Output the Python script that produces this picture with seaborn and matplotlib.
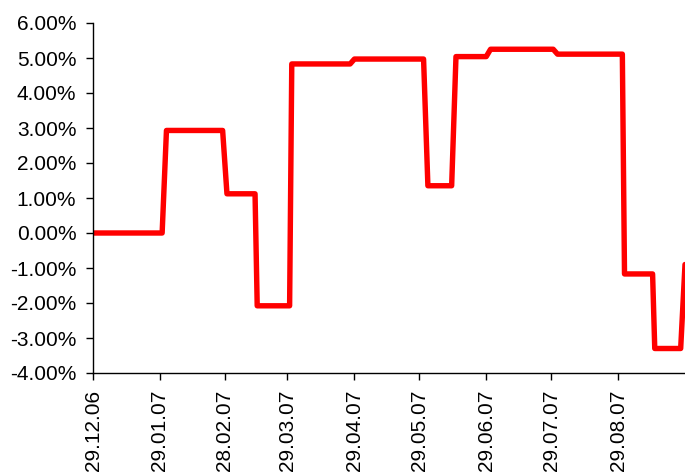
import matplotlib
matplotlib.use("Agg")
import matplotlib.pyplot as plt
import matplotlib.dates as mdates
from matplotlib.ticker import FixedLocator, FuncFormatter
import seaborn as sns
import pandas as pd

# ---- data (corner points of the step-like series, value in %) ----
dates = ["2006-12-29", "2007-01-30", "2007-02-01", "2007-02-27", "2007-03-01",
         "2007-03-14", "2007-03-15", "2007-03-30", "2007-03-31", "2007-04-27",
         "2007-04-29", "2007-05-31", "2007-06-02", "2007-06-13", "2007-06-15",
         "2007-06-29", "2007-07-01", "2007-07-30", "2007-08-01", "2007-08-31",
         "2007-09-01", "2007-09-14", "2007-09-15", "2007-09-27", "2007-09-29"]
values = [0.00, 0.00, 2.93, 2.93, 1.12,
          1.12, -2.08, -2.08, 4.83, 4.83,
          4.97, 4.97, 1.35, 1.35, 5.04,
          5.04, 5.25, 5.25, 5.11, 5.11,
          -1.17, -1.17, -3.30, -3.30, -0.90]
tick_labels = ["29.12.06", "29.01.07", "28.02.07", "29.03.07", "29.04.07",
               "29.05.07", "29.06.07", "29.07.07", "29.08.07"]
y_ticks = [-4, -3, -2, -1, 0, 1, 2, 3, 4, 5, 6]

df = pd.DataFrame({"date": pd.to_datetime(dates), "value": values})

sns.set_style("white")
plt.rcParams["font.family"] = ["Liberation Sans", "DejaVu Sans"]

fig = plt.figure(figsize=(6.85, 4.72), dpi=100)
ax = fig.add_axes([93 / 685, 1 - 373 / 472, 1 - 93 / 685, (373 - 23) / 472])

sns.lineplot(data=df, x="date", y="value", ax=ax, color="#FF0000",
             linewidth=3.9, estimator=None, sort=False, legend=False)

ax.set_xlim(pd.Timestamp("2006-12-29"), pd.Timestamp("2007-09-29"))
ax.set_ylim(-4, 6)

tick_pos = [mdates.date2num(pd.to_datetime(t, format="%d.%m.%y")) for t in tick_labels]
ax.xaxis.set_major_locator(FixedLocator(tick_pos))
ax.set_xticklabels(tick_labels, rotation=90)
ax.yaxis.set_major_locator(FixedLocator(y_ticks))
ax.yaxis.set_major_formatter(FuncFormatter(lambda v, p: f"{v:.2f}%"))

ax.set_xlabel("")
ax.set_ylabel("")
for side in ["top", "right"]:
    ax.spines[side].set_visible(False)
for side in ["left", "bottom"]:
    ax.spines[side].set_color("black")
    ax.spines[side].set_linewidth(1.0)

ax.tick_params(axis="both", which="major", direction="out", length=5, width=1,
               color="black", labelcolor="black", labelsize=15, pad=7,
               left=True, bottom=True)
ax.grid(False)

fig.savefig("out.png", dpi=100)
